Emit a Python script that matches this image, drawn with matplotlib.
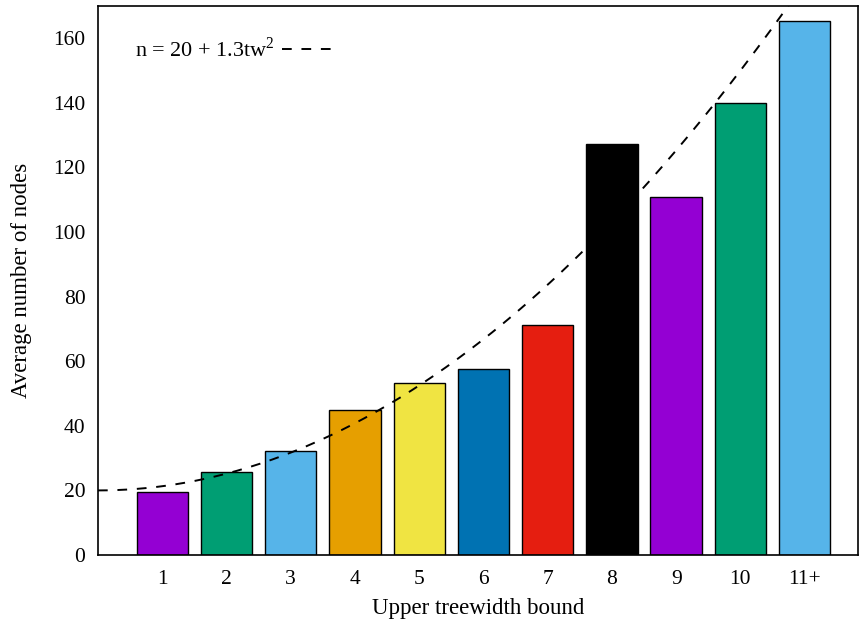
import numpy as np
import matplotlib
matplotlib.use("Agg")
import matplotlib.pyplot as plt

plt.rcParams['font.family'] = ['Liberation Serif', 'DejaVu Serif']
plt.rcParams['mathtext.fontset'] = 'custom'
plt.rcParams['mathtext.rm'] = 'Liberation Serif'

categories = ["1", "2", "3", "4", "5", "6", "7", "8", "9", "10", "11+"]
avg_nodes = [19.4, 25.8, 32.2, 44.9, 53.3, 57.7, 71.3, 127.4, 110.9, 139.9, 165.3]
colors = ["#9400d3", "#009e73", "#56b4e9", "#e69f00", "#f0e442", "#0072b2",
          "#e51e10", "#000000", "#9400d3", "#009e73", "#56b4e9"]
fit_const, fit_coef = 20, 1.3

fig = plt.figure(figsize=(8.61, 6.22), dpi=100)
ax = fig.add_axes([0.1138, 0.1077, 0.8827, 0.8827])

pos = np.arange(1, len(categories) + 1)
ax.bar(pos, avg_nodes, width=0.8, color=colors, edgecolor="black", linewidth=1.0, zorder=2)

tw = np.linspace(0, 12, 400)
ax.plot(tw, fit_const + fit_coef * tw ** 2, color="black", linestyle=(0, (5, 5)),
        linewidth=1.4, zorder=3, label=r"n = 20 + 1.3tw$^2$")

ax.set_xlim(0, 11.83)
ax.set_ylim(0, 170)
ax.set_xticks(pos)
ax.set_xticklabels(categories)
ax.set_yticks(np.arange(0, 161, 20))
ax.tick_params(length=0, labelsize=15.5)
ax.tick_params(axis="y", pad=9)
ax.tick_params(axis="x", pad=11)
for s in ax.spines.values():
    s.set_linewidth(1.2)

ax.set_xlabel("Upper treewidth bound", fontsize=16.5, labelpad=6)
ax.set_ylabel("Average number of nodes", fontsize=16.5, labelpad=15)

leg = ax.legend(loc="upper left", bbox_to_anchor=(0.023, 0.98), frameon=False,
                markerfirst=False, fontsize=16, handlelength=2.5, handletextpad=0.3)

fig.savefig("out.png", dpi=100)
